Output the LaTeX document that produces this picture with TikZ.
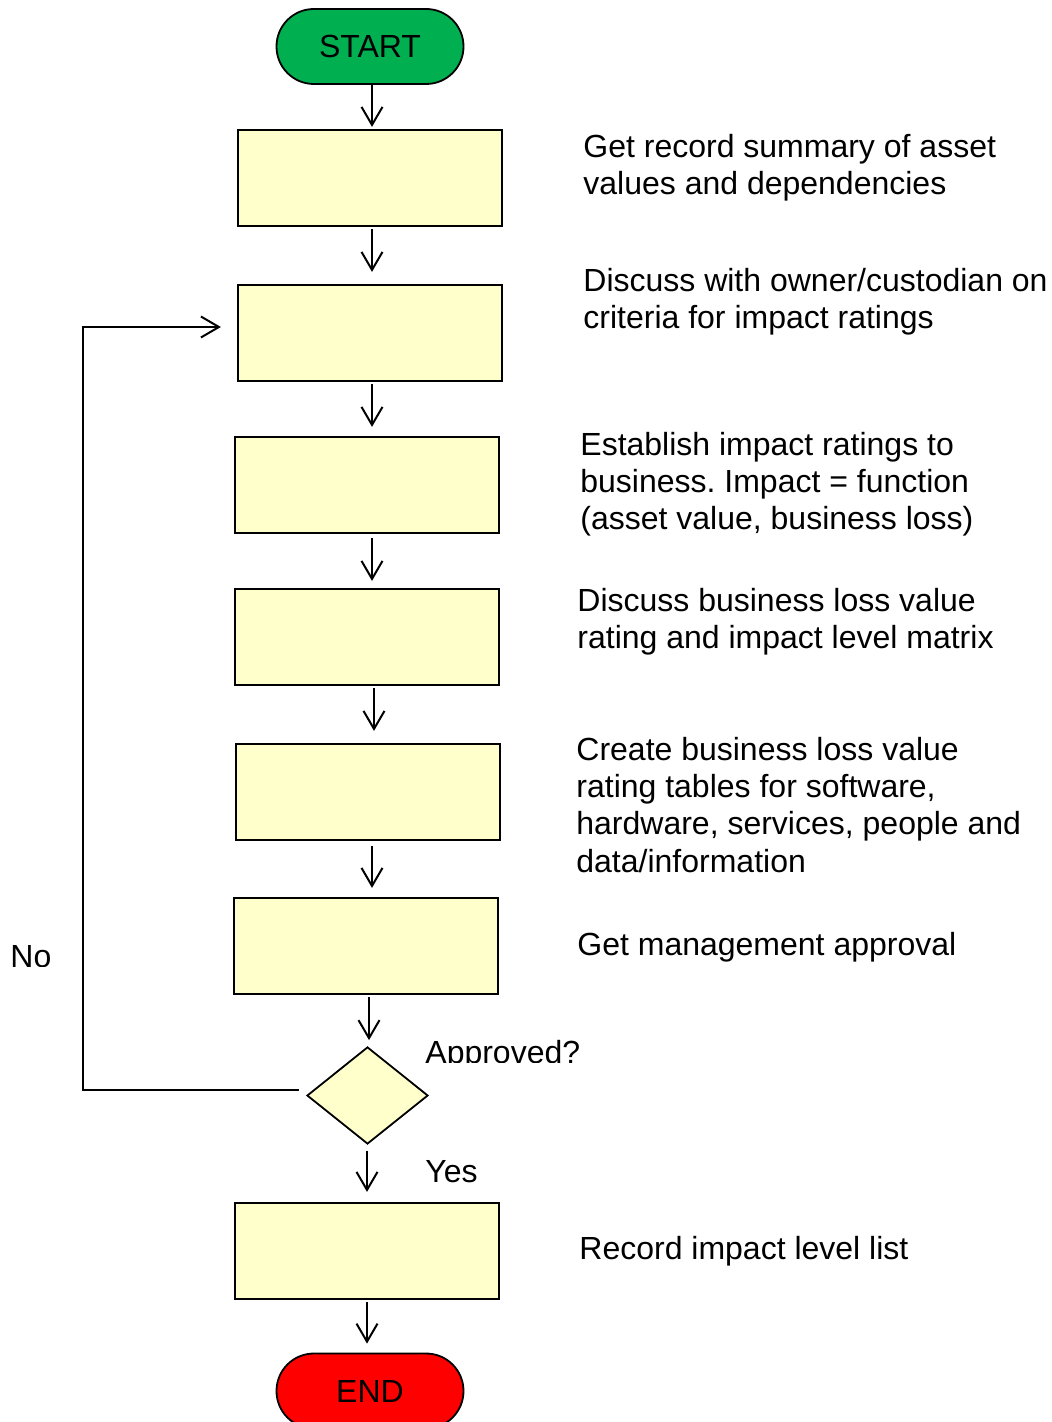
\documentclass[tikz,border=0pt]{standalone}
\usepackage{fontspec}
\setmainfont{Liberation Sans}
\usetikzlibrary{arrows.meta,shapes.geometric}
\definecolor{stepfill}{HTML}{FFFFCC}
\definecolor{startgreen}{HTML}{00B050}
\definecolor{endred}{HTML}{FF0000}
\begin{document}
\frenchspacing
\begin{tikzpicture}[x=0.5pt,y=-0.5pt,
  every node/.style={font=\fontsize{16pt}{18.6pt}\selectfont},
  stepbox/.style={draw=black,line width=1.1pt,fill=stepfill,minimum width=132pt,minimum height=48pt,inner sep=0pt},
  terminal/.style={draw=black,line width=0.9pt,minimum width=93.5pt,minimum height=37.5pt,rounded corners=18.7pt,inner sep=0pt},
  decision/.style={diamond,draw=black,line width=0.9pt,fill=stepfill,minimum width=60.5pt,minimum height=48.5pt,inner sep=0pt},
  arr/.style={line width=1pt,-{Straight Barb[length=9pt,width=10.5pt,line width=1pt]}},
  note/.style={anchor=base west,align=left,inner sep=0pt},
  % multi-line notes: anchored by the top of a strut on their first line
  block/.style={anchor=north west,align=left,inner sep=0pt,yshift=13.02pt}]
\useasboundingbox (0,0) rectangle (1052,1422);

% flow chain
\node[terminal,fill=startgreen] (s) at (370,46.5) {START};
\node[stepbox] (b1) at (370,178) {};
\node[stepbox] (b2) at (370,333) {};
\node[stepbox] (b3) at (367,485) {};
\node[stepbox] (b4) at (367,637) {};
\node[stepbox] (b5) at (368,792) {};
\node[stepbox] (b6) at (366,946) {};
\node[decision] (d) at (367.5,1095.5) {};
\node[stepbox] (b7) at (367,1251) {};
\node[terminal,fill=endred] (e) at (370,1391) {END};

% arrows between the steps
\draw[arr,shorten >=1pt] (372,0 |- s.south) -- (372,0 |- b1.north);
\draw[arr,shorten <=1pt,shorten >=6pt] (372,0 |- b1.south) -- (372,0 |- b2.north);
\draw[arr,shorten <=1pt,shorten >=4.5pt] (372,0 |- b2.south) -- (372,0 |- b3.north);
\draw[arr,shorten <=2pt,shorten >=3.5pt] (372,0 |- b3.south) -- (372,0 |- b4.north);
\draw[arr,shorten <=1pt,shorten >=6pt] (374,0 |- b4.south) -- (374,0 |- b5.north);
\draw[arr,shorten <=2.5pt,shorten >=4.5pt] (372,0 |- b5.south) -- (372,0 |- b6.north);
\draw[arr,shorten <=1pt,shorten >=3pt] (369,0 |- b6.south) -- (369,0 |- d.north);
\draw[arr,shorten <=3pt,shorten >=5pt] (367,0 |- d.south) -- (367,0 |- b7.north);
\draw[arr,shorten <=1pt,shorten >=4.5pt] (367,0 |- b7.south) -- (367,0 |- e.north);

% "No" loop back to the second step
\coordinate (lp) at ([shift={(-7,-6)}]d.west);
\coordinate (lq) at ([shift={(-16,-6)}]b2.west);
\draw[arr] (lp) -| (83,0 |- lq) -- (lq);

% step descriptions (positions are first-line baselines)
\node[block] (t1) at (583,157) {\strut Get record summary of asset\\values and dependencies};
\node[block] (t2) at (583,291) {\strut Discuss with owner/custodian on\\criteria for impact ratings};
\node[block] (t3) at (580,455) {\strut Establish impact ratings to\\business. Impact = function\\(asset value, business loss)};
\node[block] (t4) at (577,611) {\strut Discuss business loss value\\rating and impact level matrix};
\node[block] (t5) at (576,760) {\strut Create business loss value\\rating tables for software,\\hardware, services, people and\\data/information};
\node[note] (t6) at (577,955) {Get management approval};
\node[note] (t7) at (579,1259) {Record impact level list};
\node[note] (yes) at (425,1182) {Yes};

\begin{scope}
  \clip (0,0) rectangle (1052,1062);
  \node[note] (ap) at (425,1063) {Approved?};
\end{scope}
\begin{scope}
  \clip (0,0) rectangle (300,966.5);
  \node[note] (no) at (10,967) {No};
\end{scope}
\end{tikzpicture}
\end{document}
